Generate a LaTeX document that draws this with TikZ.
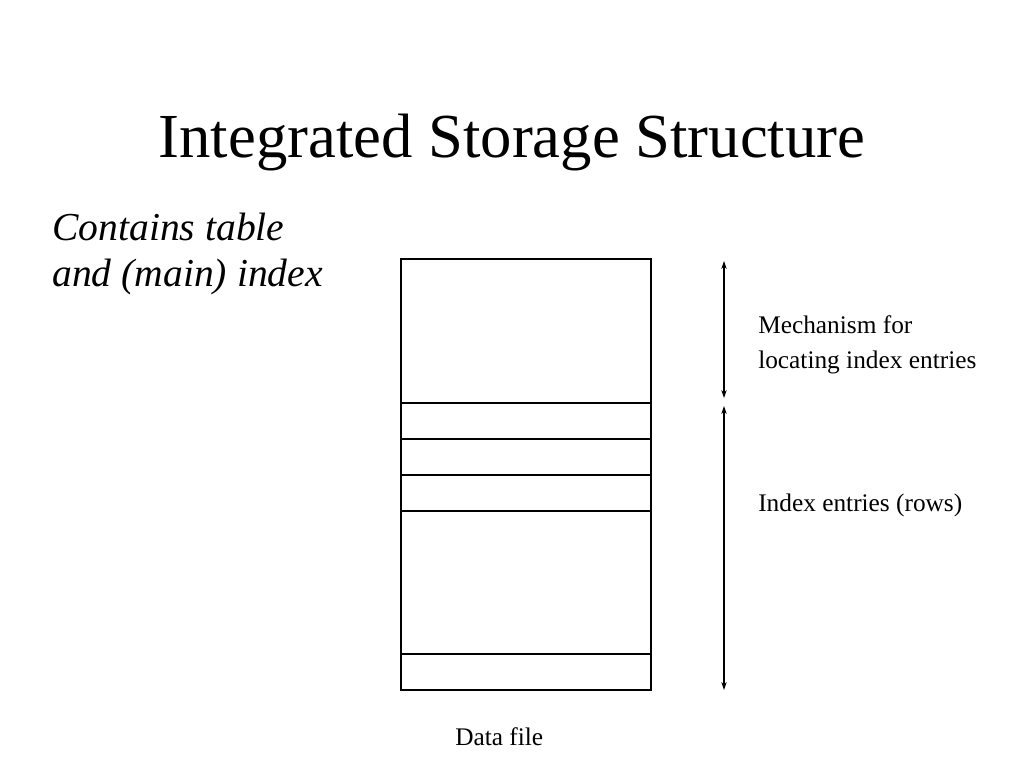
\documentclass[tikz,border=0pt]{standalone}
\usepackage{fontspec}
\setmainfont{Liberation Serif}
\usetikzlibrary{arrows.meta, positioning, calc}

\begin{document}
\begin{tikzpicture}[
    x=0.75pt, y=-0.75pt, >={Stealth[length=6pt,width=4pt]},
    rowbox/.style={draw, line width=0.9pt, minimum width=187.5pt,
        inner sep=0pt, outer sep=0pt},
    sidelabel/.style={font=\fontsize{19}{26.25}\selectfont, align=left,
        anchor=base west, inner sep=0pt}
  ]
  \useasboundingbox (0,0) rectangle (1024,768);
  \node[font=\fontsize{47}{56}\selectfont, anchor=base] (title) at (512,157)
    {Integrated Storage Structure};
  \node[font=\fontsize{29.7}{34.5}\selectfont\itshape, align=left,
    anchor=base west, inner sep=0pt] (note) at (52,286)
    {Contains table\\and (main) index};
  % the data file, row by row
  \node[rowbox, minimum height=108pt, anchor=north west] (r0) at (401,259) {};
  \node[rowbox, minimum height=27pt, below=0pt of r0] (r1) {};
  \node[rowbox, minimum height=27pt, below=0pt of r1] (r2) {};
  \node[rowbox, minimum height=27pt, below=0pt of r2] (r3) {};
  \node[rowbox, minimum height=107.25pt, below=0pt of r3] (r4) {};
  \node[rowbox, minimum height=27pt, below=0pt of r4] (r5) {};
  \node[sidelabel] (dfile) at (455,745) {Data file};
  % extents
  \coordinate (mtop) at (724,261);
  \coordinate (mbot) at (724,398);
  \coordinate (itop) at (724,406);
  \coordinate (ibot) at (724,690);
  \draw[<->, line width=0.9pt] (mtop) -- (mbot);
  \draw[<->, line width=0.9pt] (itop) -- (ibot);
  \node[sidelabel] (mech) at (758,368) {Mechanism for\\locating index entries};
  \node[sidelabel] (ient) at (758,511) {Index entries (rows)};
\end{tikzpicture}
\end{document}
